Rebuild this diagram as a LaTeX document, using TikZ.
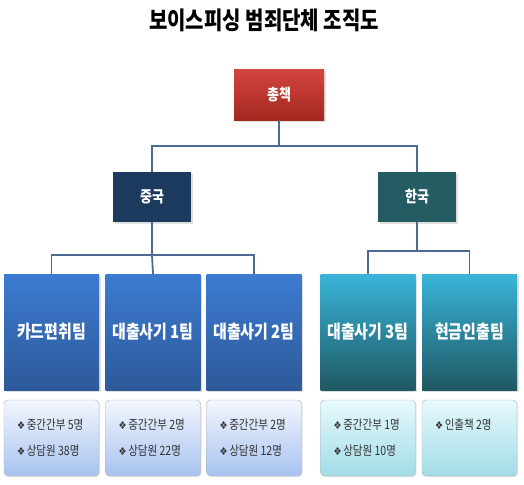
\documentclass[tikz,border=0pt]{standalone}
\usepackage{fontspec}
\newfontfamily\kr{Noto Sans CJK KR}
\newfontfamily\sym{DejaVu Sans}
\usetikzlibrary{shadows}
\definecolor{boss1}{HTML}{D3443F}
\definecolor{boss2}{HTML}{A3281F}
\definecolor{cn}{HTML}{1B3A5E}
\definecolor{ko}{HTML}{235C63}
\definecolor{blue1}{HTML}{3C7BD1}
\definecolor{blue2}{HTML}{2D5A99}
\definecolor{teal1}{HTML}{39B5D9}
\definecolor{teal2}{HTML}{1F5863}
\definecolor{infoB1}{HTML}{F3F7FE}
\definecolor{infoB2}{HTML}{A7C2EF}
\definecolor{infoT1}{HTML}{E7FAFD}
\definecolor{infoT2}{HTML}{A2DCE7}
\definecolor{wire}{HTML}{4D6A94}
\tikzset{head/.style={rectangle, inner sep=0pt, text=white, font=\kr\bfseries\fontsize{13}{15}\selectfont,
   drop shadow={opacity=0.25, shadow xshift=1.5pt, shadow yshift=-1.5pt}}}
\tikzset{team/.style={head, minimum width=95pt, minimum height=116pt, font=\kr\bfseries\fontsize{15}{17}\selectfont}}
\tikzset{info/.style={rectangle, rounded corners=4pt, draw=gray!60, inner sep=0pt,
   minimum width=95pt, minimum height=76pt,
   drop shadow={opacity=0.2, shadow xshift=1pt, shadow yshift=-1pt}}}
\tikzset{item/.style={anchor=west, inner sep=0pt, font=\kr\fontsize{10.5}{12}\selectfont, text=black!80}}
\tikzset{wire/.style={draw=wire, line width=1.8pt}}
\newcommand{\tall}[1]{\scalebox{1}[1.22]{#1}}
\newcommand{\dia}{{\sym\fontsize{9}{10}\selectfont ❖}\,}

\begin{document}
\begin{tikzpicture}[x=1pt, y=-1pt]
  \useasboundingbox[fill=white] (0,0) rectangle (524,484);

  \node[font=\kr\bfseries\fontsize{20}{24}\selectfont] (title) at (264,20) {\tall{보이스피싱 범죄단체 조직도}};

  \node[head, minimum width=90pt, minimum height=50pt, top color=boss1, bottom color=boss2] (boss) at (279,95) {\tall{총책}};
  \node[head, minimum width=78pt, minimum height=50pt, fill=cn] (china) at (152,197) {\tall{중국}};
  \node[head, minimum width=78pt, minimum height=50pt, fill=ko] (korea) at (417,197) {\tall{한국}};

  \node[team, top color=blue1, bottom color=blue2] (card) at (51.5,332) {\tall{카드편취팀}};
  \node[team, top color=blue1, bottom color=blue2] (loan1) at (153,332) {\tall{대출사기 1팀}};
  \node[team, top color=blue1, bottom color=blue2] (loan2) at (254,332) {\tall{대출사기 2팀}};
  \node[team, top color=teal1, bottom color=teal2] (loan3) at (368,332) {\tall{대출사기 3팀}};
  \node[team, top color=teal1, bottom color=teal2] (cash) at (469.5,332) {\tall{현금인출팀}};

  \node[info, top color=infoB1, bottom color=infoB2] (cardI) at (51.5,438) {};
  \node[info, top color=infoB1, bottom color=infoB2] (loan1I) at (153,438) {};
  \node[info, top color=infoB1, bottom color=infoB2] (loan2I) at (254,438) {};
  \node[info, top color=infoT1, bottom color=infoT2] (loan3I) at (368,438) {};
  \node[info, top color=infoT1, bottom color=infoT2] (cashI) at (469.5,438) {};

  % member lists
  \foreach \n/\a/\b in {cardI/5/38, loan1I/2/22, loan2I/2/12, loan3I/1/10} {
    \node[item] at ([xshift=13pt, yshift=13pt]\n.west) {\tall{\dia 중간간부 \a 명}};
    \node[item] at ([xshift=13pt, yshift=-13pt]\n.west) {\tall{\dia 상담원 \b 명}};
  }
  \node[item] at ([xshift=13pt, yshift=13pt]cashI.west) {\tall{\dia 인출책 2명}};

  % connectors
  \coordinate (top) at (279,146);
  \draw[wire] (boss.south) -- (top) -| (china.north);
  \draw[wire] (top) -| (korea.north);
  \coordinate (cnbar) at (152,255);
  \draw[wire] (china.south) -- (cnbar) -| (card.north);
  \draw[wire] (cnbar) -- (loan1.north);
  \draw[wire] (cnbar) -| (loan2.north);
  \coordinate (kobar) at (417,251);
  \draw[wire] (korea.south) -- (kobar) -| (loan3.north);
  \draw[wire] (kobar) -| (cash.north);
\end{tikzpicture}
\end{document}
